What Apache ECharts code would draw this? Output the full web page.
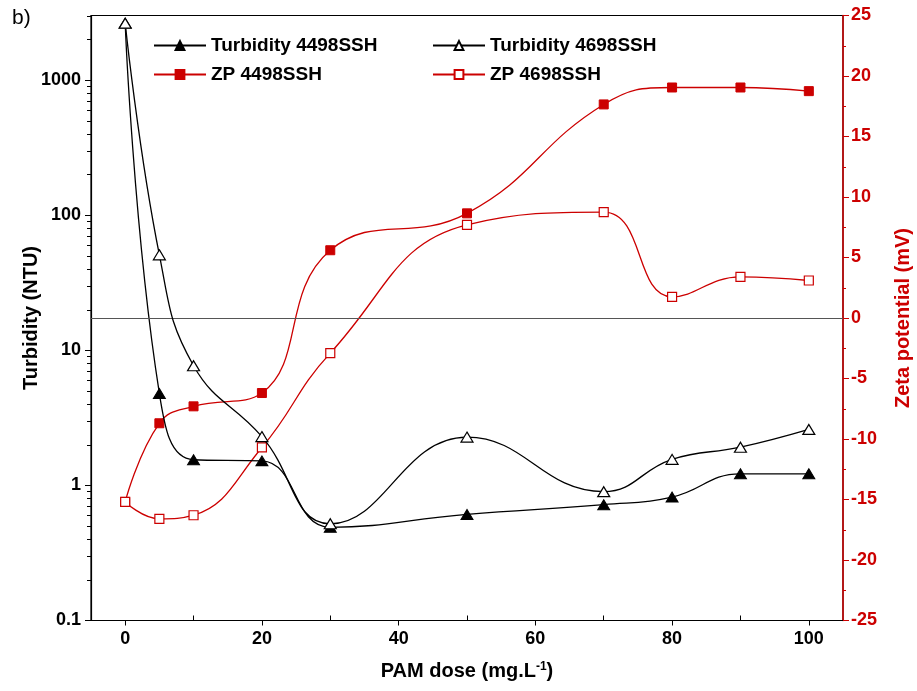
<!DOCTYPE html>
<html>
<head>
<meta charset="utf-8">
<script src="https://cdn.jsdelivr.net/npm/echarts@6/dist/echarts.min.js"></script>
<style>
html,body{margin:0;padding:0;background:#fff;}
#chart{width:917px;height:691px;}
</style>
</head>
<body>
<div id="chart"></div>
<script>
// ---- data ----
var doses = [0, 5, 10, 20, 30, 50, 70, 80, 90, 100];
var turbidity4498 = [2650, 4.8, 1.55, 1.52, 0.49, 0.61, 0.72, 0.82, 1.22, 1.22];
var turbidity4698 = [2650, 51, 7.7, 2.3, 0.52, 2.28, 0.9, 1.56, 1.92, 2.6];
var zp4498 = [-15.2, -8.7, -7.3, -6.2, 5.6, 8.65, 17.65, 19.05, 19.05, 18.75];
var zp4698 = [-15.2, -16.6, -16.3, -10.7, -2.9, 7.7, 8.75, 1.75, 3.4, 3.1];
var xLabelValues = [0, 20, 40, 60, 80, 100];
var xMinorValues = [10, 30, 50, 70, 90];
var yMajorValues = [0.1, 1, 10, 100, 1000];

function pairs(xs, ys) { return xs.map(function (x, i) { return [x, ys[i]]; }); }
var yMinorValues = [];
yMajorValues.forEach(function (d) {
  for (var k = 2; k <= 9; k++) { var v = +(k * d).toPrecision(3); if (v <= 3000) yMinorValues.push(v); }
});

var RED = '#cc0000';
var FONT = '"Liberation Sans", Arial, sans-serif';

var chart = echarts.init(document.getElementById('chart'), null, { renderer: 'canvas' });
chart.setOption({
  backgroundColor: '#fff',
  animation: false,
  graphic: [{
    type: 'text', left: 12, top: 8,
    style: { text: 'b)', font: '21px ' + FONT, fill: '#000' }
  }],
  legend: [{
    left: 148, top: 31, orient: 'vertical', itemWidth: 52, itemHeight: 11, itemGap: 10,
    textStyle: { fontFamily: FONT, fontWeight: 'bold', fontSize: 19, color: '#000' },
    data: ['Turbidity 4498SSH', 'ZP 4498SSH']
  }, {
    left: 427, top: 31, orient: 'vertical', itemWidth: 52, itemHeight: 11, itemGap: 10,
    textStyle: { fontFamily: FONT, fontWeight: 'bold', fontSize: 19, color: '#000' },
    data: ['Turbidity 4698SSH', 'ZP 4698SSH']
  }],
  grid: { left: 91, right: 74, top: 15.5, bottom: 70.5, show: true, borderColor: '#000', borderWidth: 1.2,
    containLabel: false, outerBoundsMode: 'none' },
  xAxis: [{
    type: 'value', min: -5, max: 105,
    name: 'PAM dose (mg.L{sup|-1})', nameLocation: 'middle', nameGap: 40,
    nameTextStyle: { fontFamily: FONT, fontWeight: 'bold', fontSize: 20, color: '#000',
      rich: { sup: { fontFamily: FONT, fontWeight: 'bold', fontSize: 12, verticalAlign: 'top', padding: [0, 0, 9, 0], color: '#000' } } },
    axisLine: { show: true, onZero: false, lineStyle: { color: '#000', width: 1.2 } },
    axisTick: { show: true, length: 5, customValues: xLabelValues, lineStyle: { color: '#000' } },
    axisLabel: { customValues: xLabelValues, margin: 10, fontFamily: FONT, fontWeight: 'bold', fontSize: 18, color: '#000' },
    splitLine: { show: false }
  }, {
    type: 'value', min: -5, max: 105, position: 'bottom',
    axisLine: { show: false, onZero: false },
    axisTick: { show: true, inside: true, length: 5, customValues: xMinorValues, lineStyle: { color: '#000', width: 1 } },
    axisLabel: { show: false },
    splitLine: { show: false }
  }],
  yAxis: [{
    type: 'log', logBase: 10, min: 0.1, max: 3020, position: 'left',
    name: 'Turbidity (NTU)', nameLocation: 'middle', nameGap: 50, nameMoveOverlap: false,
    nameTextStyle: { fontFamily: FONT, fontWeight: 'bold', fontSize: 20, color: '#000' },
    axisLine: { show: true, onZero: false, lineStyle: { color: '#000', width: 1.2 } },
    axisTick: { show: true, length: 6, customValues: yMajorValues, lineStyle: { color: '#000' } },
    axisLabel: { customValues: yMajorValues, margin: 10,
      formatter: function (v) { return String(+(+v).toPrecision(3)); },
      fontFamily: FONT, fontWeight: 'bold', fontSize: 18, color: '#000' },
    splitLine: { show: false }
  }, {
    type: 'value', min: -25, max: 25, interval: 5, position: 'right',
    name: 'Zeta potential (mV)', nameLocation: 'middle', nameGap: 50, nameMoveOverlap: false,
    nameTextStyle: { fontFamily: FONT, fontWeight: 'bold', fontSize: 20, color: RED },
    axisLine: { show: true, onZero: false, lineStyle: { color: RED, width: 1.5 } },
    axisTick: { show: true, length: 6, lineStyle: { color: RED } },
    minorTick: { show: true, splitNumber: 2, length: 3, lineStyle: { color: RED } },
    axisLabel: { margin: 8, fontFamily: FONT, fontWeight: 'bold', fontSize: 18, color: RED },
    splitLine: { show: false }
  }, {
    type: 'log', logBase: 10, min: 0.1, max: 3020, position: 'left',
    axisLine: { show: false, onZero: false },
    axisTick: { show: true, length: 4, customValues: yMinorValues, lineStyle: { color: '#000' } },
    axisLabel: { show: false },
    splitLine: { show: false }
  }],
  series: [{
    name: 'ZP 4498SSH', type: 'line', yAxisIndex: 1, smooth: 0.45,
    data: pairs(doses, zp4498),
    symbol: 'rect', symbolSize: 9,
    itemStyle: { color: RED, borderColor: RED, borderWidth: 1 },
    lineStyle: { color: RED, width: 1.3 },
    markLine: { silent: true, symbol: 'none', label: { show: false },
      lineStyle: { color: '#555', width: 1.2, type: 'solid' }, data: [{ yAxis: 0 }] },
    z: 2
  }, {
    name: 'ZP 4698SSH', type: 'line', yAxisIndex: 1, smooth: 0.45,
    data: pairs(doses, zp4698),
    symbol: 'rect', symbolSize: 9,
    itemStyle: { color: '#fff', borderColor: RED, borderWidth: 1.2 },
    lineStyle: { color: RED, width: 1.3 },
    z: 3
  }, {
    name: 'Turbidity 4498SSH', type: 'line', yAxisIndex: 0, smooth: 0.45,
    data: pairs(doses, turbidity4498),
    symbol: 'triangle', symbolSize: [12, 10],
    itemStyle: { color: '#000', borderColor: '#000', borderWidth: 1 },
    lineStyle: { color: '#000', width: 1.3 },
    z: 4
  }, {
    name: 'Turbidity 4698SSH', type: 'line', yAxisIndex: 0, smooth: 0.45,
    data: pairs(doses, turbidity4698),
    symbol: 'triangle', symbolSize: [12, 10],
    itemStyle: { color: '#fff', borderColor: '#000', borderWidth: 1.2 },
    lineStyle: { color: '#000', width: 1.3 },
    z: 5
  }]
});
</script>
</body>
</html>
